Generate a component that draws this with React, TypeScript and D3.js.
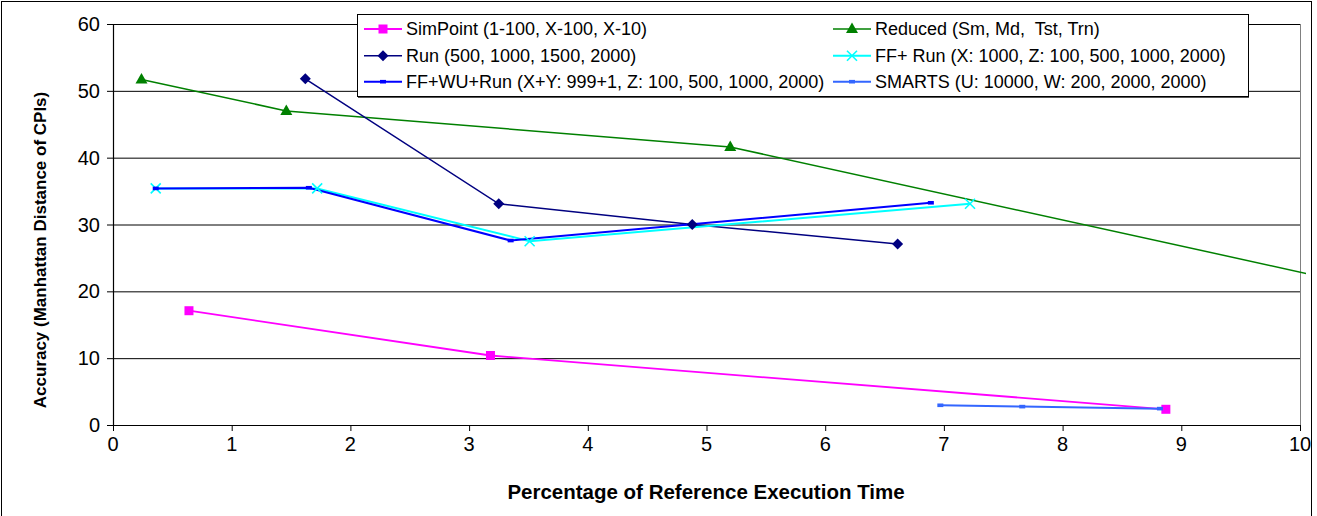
import React from "react";
import * as d3 from "d3";

const xTicks = [0, 1, 2, 3, 4, 5, 6, 7, 8, 9, 10];
const yTicks = [0, 10, 20, 30, 40, 50, 60];

const simX = [0.64, 3.18, 8.87];
const simY = [17.1, 10.4, 2.35];
const redX = [0.24, 1.46, 5.2, 11.2];
const redY = [51.7, 47.0, 41.6, 18.2];
const runX = [1.62, 3.25, 4.88, 6.61];
const runY = [51.8, 33.1, 30.0, 27.1];
const ffX = [0.36, 1.72, 3.51, 7.22];
const ffY = [35.4, 35.4, 27.5, 33.1];
const wuX = [0.36, 1.65, 3.35, 6.89];
const wuY = [35.4, 35.5, 27.6, 33.25];
const smX = [6.97, 7.66, 8.82];
const smY = [2.95, 2.75, 2.45];

const seriesNames = [
  "SimPoint (1-100, X-100, X-10)",
  "Reduced (Sm, Md,  Tst, Trn)",
  "Run (500, 1000, 1500, 2000)",
  "FF+ Run (X: 1000, Z: 100, 500, 1000, 2000)",
  "FF+WU+Run (X+Y: 999+1, Z: 100, 500, 1000, 2000)",
  "SMARTS (U: 10000, W: 200, 2000, 2000)",
];

type Marker = "square" | "triangle" | "diamond" | "x" | "dash";

const series = [
  { name: seriesNames[0], xs: simX, ys: simY, color: "#FF00FF", w: 1.8, marker: "square" as Marker },
  { name: seriesNames[1], xs: redX, ys: redY, color: "#008000", w: 1.5, marker: "triangle" as Marker },
  { name: seriesNames[2], xs: runX, ys: runY, color: "#000080", w: 1.5, marker: "diamond" as Marker },
  { name: seriesNames[3], xs: ffX, ys: ffY, color: "#00FFFF", w: 2, marker: "x" as Marker },
  { name: seriesNames[4], xs: wuX, ys: wuY, color: "#0000FF", w: 2, marker: "dash" as Marker },
  { name: seriesNames[5], xs: smX, ys: smY, color: "#3366FF", w: 2, marker: "dash" as Marker },
];

const W = 1317;
const H = 516;
const L = 113, R = 1300, T = 24, B = 425;
const FONT = "'Liberation Sans', Arial, sans-serif";

function MarkerShape({ type, cx, cy, color }: { type: Marker; cx: number; cy: number; color: string }) {
  if (type === "square") return <rect x={cx - 4.5} y={cy - 4.5} width={9} height={9} fill={color} />;
  if (type === "triangle")
    return <path d={`M${cx},${cy - 6.5}L${cx + 6},${cy + 4}L${cx - 6},${cy + 4}Z`} fill={color} />;
  if (type === "diamond")
    return <path d={`M${cx},${cy - 5.5}L${cx + 5.5},${cy}L${cx},${cy + 5.5}L${cx - 5.5},${cy}Z`} fill={color} />;
  if (type === "x")
    return (
      <path
        d={`M${cx - 5},${cy - 5}L${cx + 5},${cy + 5}M${cx - 5},${cy + 5}L${cx + 5},${cy - 5}`}
        stroke={color}
        strokeWidth={1.6}
      />
    );
  return <rect x={cx - 3} y={cy - 1.8} width={6} height={3.6} fill={color} />;
}

export default function App() {
  const x = d3.scaleLinear().domain([0, 10]).range([L, R]);
  const y = d3.scaleLinear().domain([0, 60]).range([B, T]);
  const line = d3
    .line<[number, number]>()
    .x((d) => x(d[0]))
    .y((d) => y(d[1]));

  const legendRows = [29, 55.7, 81.7];
  const legendCols = [364, 833];

  return (
    <svg width={W} height={H} style={{ position: "absolute", left: 0, top: 0 }} fontFamily={FONT}>
      <rect x={0} y={0} width={W} height={H} fill="#fff" />
      <rect x={1.5} y={1.5} width={1310} height={515} fill="none" stroke="#000" strokeWidth={1} />
      <defs>
        <clipPath id="plotclip">
          <rect x={L} y={T - 10} width={R - L + 6} height={B - T + 20} />
        </clipPath>
      </defs>
      {yTicks.slice(1).map((t) => (
        <line key={t} x1={L} x2={R} y1={y(t) + 0.5} y2={y(t) + 0.5} stroke="#000" strokeWidth={1} />
      ))}
      <line x1={R + 0.5} x2={R + 0.5} y1={T} y2={B} stroke="#808080" strokeWidth={1} />
      <line x1={L + 0.5} x2={L + 0.5} y1={T} y2={B} stroke="#000" strokeWidth={1.2} />
      <line x1={L} x2={R + 1} y1={B + 0.5} y2={B + 0.5} stroke="#000" strokeWidth={1.2} />
      {yTicks.map((t) => (
        <g key={t}>
          <line x1={L - 6} x2={L} y1={y(t) + 0.5} y2={y(t) + 0.5} stroke="#000" />
          <text x={100} y={y(t)} dy="0.35em" textAnchor="end" fontSize={20}>
            {t}
          </text>
        </g>
      ))}
      {xTicks.map((t) => (
        <g key={t}>
          <line x1={x(t) + 0.5} x2={x(t) + 0.5} y1={B} y2={B + 6} stroke="#000" />
          <text x={x(t)} y={444} dy="0.35em" textAnchor="middle" fontSize={20}>
            {t}
          </text>
        </g>
      ))}
      <text x={706} y={492} dy="0.35em" textAnchor="middle" fontSize={20.5} fontWeight="bold">
        Percentage of Reference Execution Time
      </text>
      <text
        transform={`translate(40,250) rotate(-90)`}
        textAnchor="middle"
        dy="0.35em"
        fontSize={17}
        fontWeight="bold"
      >
        Accuracy (Manhattan Distance of CPIs)
      </text>
      <g clipPath="url(#plotclip)">
        {series.map((s, i) => (
          <path
            key={i}
            d={line(s.xs.map((v, j) => [v, s.ys[j]] as [number, number])) || ""}
            fill="none"
            stroke={s.color}
            strokeWidth={s.w}
          />
        ))}
      </g>
      <g clipPath="url(#plotclip)">
        {series.map((s, i) =>
          s.xs.map((v, j) =>
            v <= 10 ? <MarkerShape key={`${i}-${j}`} type={s.marker} cx={x(v)} cy={y(s.ys[j])} color={s.color} /> : null
          )
        )}
      </g>
      <rect x={357.5} y={14.5} width={891} height={82} fill="#fff" stroke="#000" strokeWidth={1} />
      <line x1={358} x2={1249} y1={97.5} y2={97.5} stroke="#555" strokeWidth={1} />
      {series.map((s, i) => {
        const col = i % 2;
        const row = Math.floor(i / 2);
        const lx = legendCols[col];
        const ly = legendRows[row];
        return (
          <g key={i}>
            <line x1={lx} x2={lx + 38} y1={ly} y2={ly} stroke={s.color} strokeWidth={s.w} />
            <MarkerShape type={s.marker} cx={lx + 19} cy={ly} color={s.color} />
            <text x={lx + 42} y={ly} dy="0.35em" fontSize={18} style={{ whiteSpace: "pre" }}>
              {s.name}
            </text>
          </g>
        );
      })}
    </svg>
  );
}
